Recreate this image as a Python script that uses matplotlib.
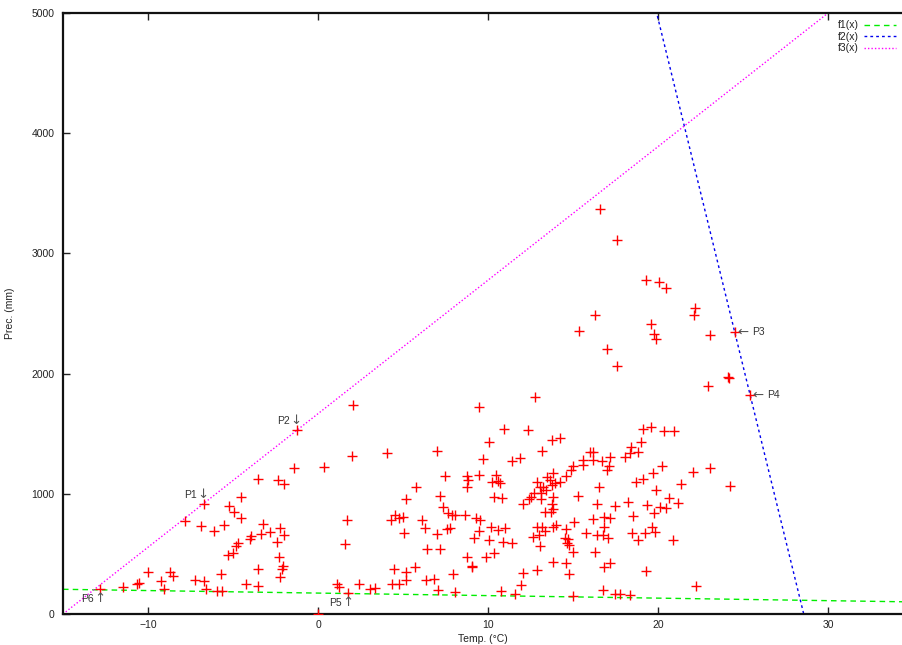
import matplotlib
matplotlib.use("Agg")
import matplotlib.pyplot as plt
import numpy as np

plt.rcParams['font.family'] = ['Liberation Sans', 'DejaVu Sans']

# ---- data (temperature °C, precipitation mm) ----
temp = [
    16.59, 17.57, 19.28, 20.06, 20.47, 16.29, 15.37, 19.57, 19.76, 19.86, 22.18, 22.14, 23.06, 24.53,
    16.98, 17.57, 24.10, 24.15, 22.96, 25.41,
    2.08, -1.24, 1.98, -1.39, 0.35, -3.51, -2.33, -2.00, -4.53, -6.71, -5.22, -4.94, -4.51, -7.80,
    -6.88, -5.55, -6.12, -3.25, -2.24, -2.82, -3.33, -2.00, -3.92, -4.02, -2.43, -4.72, -4.80, -5.00,
    -5.31, -2.31, -2.04, -2.12, -3.53, -2.24, -5.71, -10.00, -8.71, -8.55, -10.53, -10.63, -11.45,
    -9.24, -9.08, -7.22, -6.69, -6.61, -5.96, -5.65, -4.22, -3.51, -12.82, 1.69, 1.59, 1.12, 1.22,
    1.75, 2.39, 3.06, 3.35, 0.00,
    4.47, 4.33, 4.76, 5.16, 5.18, 5.69, 6.33, 6.81, 7.08, 7.96, 8.06, 9.08, 10.75, 11.59, 11.96,
    12.08, 12.86, 13.84, 14.57, 14.78, 14.98, 16.78, 16.82, 17.18, 17.49, 17.76, 18.35, 19.29, 22.24,
    12.76, 9.47, 10.96, 12.37, 10.08, 13.78, 14.24, 4.08, 6.98, 13.20, 9.69, 11.39, 11.88, 16.00,
    16.20, 15.61, 16.20, 16.72, 17.18, 18.06, 18.39, 18.35, 18.84, 15.57, 14.98, 14.86, 14.59, 17.14,
    16.98, 7.49, 8.78, 9.45, 10.47, 8.84, 8.78, 10.24, 10.60, 10.71, 5.78, 7.18, 5.18, 10.35, 10.80,
    7.37, 7.67, 7.86, 8.08, 8.67, 4.53, 4.78, 4.29, 4.98, 6.10, 6.29, 7.76, 7.57, 9.29, 9.55, 10.16,
    10.60, 11.00, 9.47, 5.06, 6.98, 9.19, 10.08, 10.86, 11.39, 6.39, 7.18, 10.37, 9.88, 8.78, 9.08,
    12.86, 13.45, 13.80, 13.65, 13.94, 14.24, 13.74, 13.25, 13.06, 13.39, 12.71, 13.12, 13.80, 12.51,
    12.43, 13.10, 12.08, 13.74, 15.28, 16.55, 16.43, 17.47, 18.25, 18.71, 18.55, 18.45, 18.81, 13.37,
    13.69, 13.84, 15.06, 16.20, 16.82, 17.18, 12.86, 13.20, 13.35, 13.84, 14.00, 14.59, 13.02, 12.66,
    14.53, 14.72, 14.63, 14.78, 14.98, 13.06, 15.76, 16.43, 16.75, 17.08, 16.84, 16.29,
    19.10, 19.57, 20.35, 20.96, 19.02, 20.25, 19.69, 19.10, 22.08, 23.06, 21.37, 24.24, 19.86, 20.66,
    21.18, 19.33, 20.12, 20.47, 19.76, 19.63, 19.24, 19.84, 20.86,
]
prec = [
    3367, 3109, 2779, 2760, 2712, 2488, 2357, 2413, 2330, 2288, 2548, 2485, 2321, 2344,
    2202, 2066, 1969, 1960, 1900, 1822,
    1739, 1531, 1317, 1217, 1220, 1121, 1117, 1079, 971, 918, 901, 846, 799, 771,
    732, 740, 693, 746, 716, 685, 666, 655, 649, 621, 602, 588, 569, 510,
    491, 471, 402, 377, 377, 311, 333, 347, 347, 316, 255, 250, 227,
    275, 208, 280, 277, 211, 194, 194, 247, 230, 205, 785, 582, 247, 222,
    177, 247, 205, 214, 0,
    377, 250, 250, 349, 283, 389, 283, 294, 200, 333, 180, 394, 189, 166, 241,
    338, 366, 435, 427, 333, 152, 200, 394, 427, 166, 166, 155, 355, 230,
    1803, 1725, 1537, 1531, 1431, 1448, 1462, 1337, 1354, 1354, 1290, 1273, 1295, 1348,
    1348, 1281, 1281, 1273, 1304, 1309, 1392, 1337, 1350, 1242, 1231, 1198, 1151, 1231,
    1198, 1151, 1148, 1154, 1154, 1115, 1059, 1098, 1109, 1090, 1057, 984, 954, 976, 963,
    890, 838, 824, 824, 824, 824, 796, 782, 810, 782, 718, 718, 707, 796, 782, 726,
    699, 718, 691, 671, 663, 630, 616, 602, 588, 544, 544, 505, 471, 477, 399,
    1101, 1143, 1171, 1115, 1093, 1101, 1073, 1059, 1054, 1032, 1009, 1004, 976, 971,
    957, 957, 915, 915, 982, 1054, 913, 899, 932, 1101, 815, 671, 616, 851,
    851, 871, 768, 788, 810, 801, 726, 726, 693, 726, 738, 704, 657, 643,
    630, 622, 588, 572, 518, 568, 671, 657, 655, 635, 726, 518,
    1542, 1558, 1525, 1525, 1434, 1234, 1176, 1121, 1184, 1212, 1079, 1068, 1032, 968,
    921, 907, 893, 879, 838, 726, 677, 685, 616,
]

# labelled points
lab_names = ["P1", "P2", "P3", "P4", "P5", "P6"]
lab_temp = [-6.71, -1.24, 24.53, 25.41, 1.75, -12.82]
lab_prec = [918, 1531, 2344, 1822, 177, 205]
lab_arrow = ["\u2193", "\u2193", "\u2190", "\u2190", "\u2191", "\u2191"]

# reference lines: f1 (lower bound), f2 (right bound), f3 (upper-left bound)
f1_a, f1_b = 174.0, -2.1
f2_x0, f2_k = 28.57, 578.0
f3_x0, f3_k = -15.0, 111.1

xmin, xmax = -15, 34.41
ymin, ymax = 0, 5000

fig = plt.figure(figsize=(9.03, 6.45), dpi=100)
ax = fig.add_axes([63/903, 1-614/645, 1-63/903, 601/645])

ax.plot(temp, prec, linestyle='none', marker='+', color='#ff0000',
        markersize=7.5, markeredgewidth=1.0, zorder=3)

xs = np.linspace(xmin, xmax, 400)
ax.plot(xs, f1_a + f1_b * xs, color='#00ee00', lw=1.0, dashes=(4, 3), label='f1(x)')
ax.plot(xs, f2_k * (f2_x0 - xs), color='#0000ee', lw=1.0, dashes=(2, 2.2), label='f2(x)')
ax.plot(xs, f3_k * (xs - f3_x0), color='#ff00ff', lw=1.0, dashes=(1, 1.5), label='f3(x)')

txtc = '#333333'
fs = 7.5
# (text offset, text ha, arrow offset, arrow ha, arrow va) in pixels
place = {
    "\u2193": ((-7, 9), 'right', (-1, 3), 'center', 'bottom'),
    "\u2190": ((17, 0), 'left', (2, 0), 'left', 'center'),
    "\u2191": ((-6, -10), 'right', (0, -3), 'center', 'top'),
}
for n, tx, ty, ar in zip(lab_names, lab_temp, lab_prec, lab_arrow):
    toff, tha, aoff, aha, ava = place[ar]
    ax.annotate(n, xy=(tx, ty), xytext=toff, textcoords='offset pixels',
                ha=tha, va='center', fontsize=fs, color=txtc)
    ax.annotate(ar, xy=(tx, ty), xytext=aoff, textcoords='offset pixels',
                ha=aha, va=ava, fontsize=9.5, color='#555555', family='DejaVu Sans')

ax.set_xlim(xmin, xmax)
ax.set_ylim(ymin, ymax)
ax.set_xticks([-10, 0, 10, 20, 30])
ax.set_yticks([0, 1000, 2000, 3000, 4000, 5000])
ax.tick_params(axis='x', direction='in', length=5, width=1, top=True, bottom=True,
               labelsize=fs, pad=4, colors='#222222', labelcolor='#222222')
ax.tick_params(axis='y', direction='in', length=5, width=1, left=True, right=False,
               labelsize=fs, pad=6, colors='#222222', labelcolor='#222222')
for s in ['left', 'bottom', 'top']:
    ax.spines[s].set_linewidth(1.6)
    ax.spines[s].set_color('#111111')
ax.spines['right'].set_visible(False)

ax.set_xlabel('Temp. (\u00b0C)', fontsize=fs, color='#222222', labelpad=3)
ax.set_ylabel('Prec. (mm)', fontsize=fs, color='#222222', labelpad=12)

leg = ax.legend(loc='upper right', frameon=False, fontsize=fs, handlelength=3.0,
                handletextpad=0.5, labelspacing=0.15, markerfirst=False,
                borderaxespad=0.3)
for t in leg.get_texts():
    t.set_color('#222222')

fig.savefig('out.png', dpi=100)
